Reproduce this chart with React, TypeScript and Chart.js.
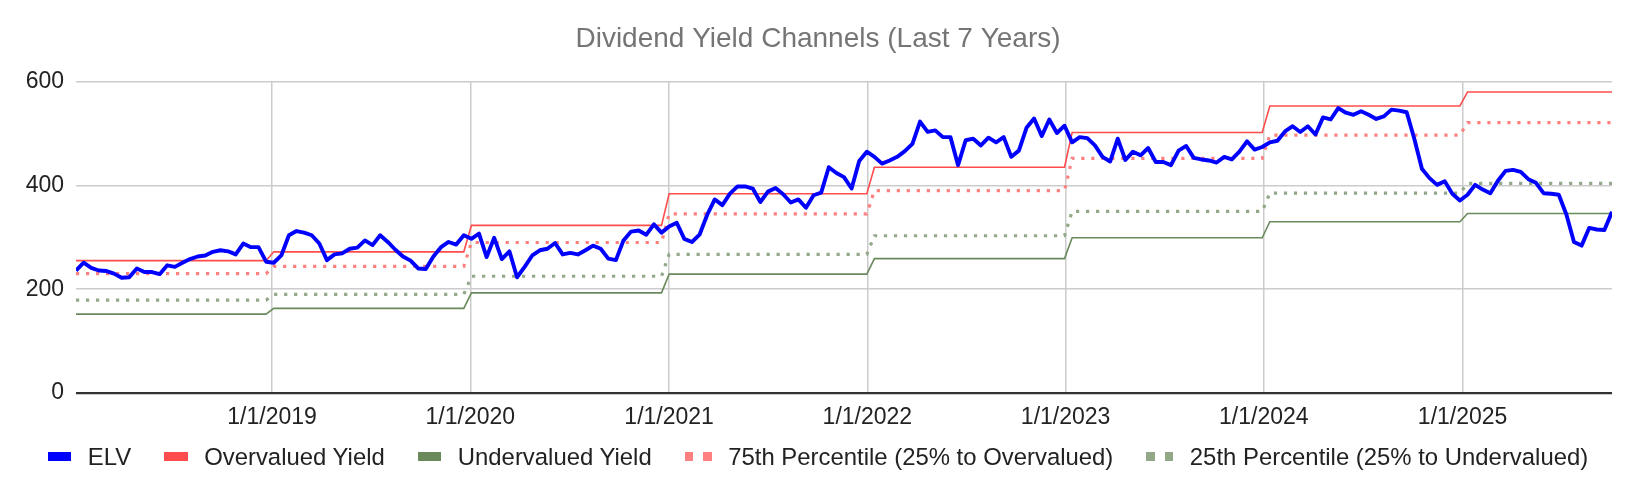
import { useEffect, useRef } from "react";
import Chart from "chart.js/auto";

const TITLE = "Dividend Yield Channels (Last 7 Years)";
const FONT = '"Liberation Sans", Arial, sans-serif';

// biweekly closes, first one on 2018-01-05
const START_DATE = "2018-01-05";
const STEP_DAYS = 14;

const ELV = [
  236, 251, 241, 236, 235, 230, 222, 223, 240, 233,
  233, 229, 246, 243, 251, 258, 263, 265, 272, 275,
  273, 267, 288, 281, 281, 253, 251, 265, 304, 312,
  309, 304, 288, 256, 267, 269, 278, 280, 294, 285,
  304, 291, 276, 263, 255, 240, 239, 263, 281, 291,
  286, 304, 297, 307, 262, 299, 258, 273, 223, 243,
  265, 275, 278, 289, 267, 270, 267, 275, 284, 278,
  259, 256, 294, 311, 313, 305, 325, 309, 321, 328,
  297, 291, 305, 343, 373, 362, 384, 398, 398, 394,
  368, 388, 395, 383, 367, 373, 357, 381, 386, 435,
  424, 416, 394, 447, 465, 455, 442, 448, 455, 466,
  480, 523, 503, 506, 493, 493, 439, 487, 490, 477,
  492, 483, 493, 455, 467, 511, 529, 495, 527, 501,
  515, 483, 493, 491, 477, 455, 446, 490, 449, 465,
  458, 472, 445, 445, 439, 467, 476, 453, 450, 448,
  444, 455, 450, 465, 485, 469, 474, 483, 486, 504,
  514, 503, 514, 498, 531, 527, 549, 540, 536, 543,
  536, 528, 533, 546, 544, 541, 490, 432, 414, 401,
  408, 384, 371, 382, 401, 392, 385, 409, 428, 430,
  426, 412, 405, 385, 384, 382, 344, 291, 284, 318,
  315, 314, 349,
];

// yearly channel levels
const CHANNEL_YEARS = [2018, 2019, 2020, 2021, 2022, 2023, 2024, 2025];
const OVERVALUED = [255, 272, 323, 384, 435, 502, 553, 580];
const P75 = [230, 244, 290, 345, 390, 452, 497, 521];
const P25 = [179, 190, 225, 267, 303, 350, 385, 404];
const UNDERVALUED = [152, 163, 193, 229, 259, 299, 330, 346];

const X_TICK_LABELS = ["1/1/2019", "1/1/2020", "1/1/2021", "1/1/2022", "1/1/2023", "1/1/2024", "1/1/2025"];
const Y_MAX = 600;
const Y_STEP = 200;

const LEGEND = [
  { name: "ELV", color: "#0000ff", dotted: false },
  { name: "Overvalued Yield", color: "#ff4d4d", dotted: false },
  { name: "Undervalued Yield", color: "#6a8a5c", dotted: false },
  { name: "75th Percentile (25% to Overvalued)", color: "#ff8080", dotted: true },
  { name: "25th Percentile (25% to Undervalued)", color: "#93a789", dotted: true },
];

const DAY = 86400000;
const start = Date.parse(START_DATE);
const days = ELV.map((_, i) => i * STEP_DAYS);
const yearOf = (d: number) => new Date(start + d * DAY).getUTCFullYear();
const xTicks = X_TICK_LABELS.map((s) => {
  const [m, d, y] = s.split("/").map(Number);
  return (Date.UTC(y, m - 1, d) - start) / DAY;
});
const channel = (vals: number[]) =>
  days.map((d) => ({ x: d, y: vals[CHANNEL_YEARS.indexOf(yearOf(d))] }));

const Swatch = ({ color, dotted }: { color: string; dotted: boolean }) =>
  dotted ? (
    <div style={{ display: "flex", width: 27, justifyContent: "space-between" }}>
      <div style={{ width: 8.5, height: 8.5, background: color }} />
      <div style={{ width: 8.5, height: 8.5, background: color }} />
    </div>
  ) : (
    <div style={{ width: 23.5, height: 9, background: color }} />
  );

export default function App() {
  const canvasRef = useRef<HTMLCanvasElement>(null);

  useEffect(() => {
    if (!canvasRef.current) return;
    const chart = new Chart(canvasRef.current, {
      type: "line",
      data: {
        datasets: [
          {
            label: LEGEND[0].name,
            data: days.map((d, i) => ({ x: d, y: ELV[i] })),
            borderColor: "#0000ff",
            borderWidth: 3.9,
            borderJoinStyle: "round",
            pointRadius: 0,
          },
          {
            label: LEGEND[1].name,
            data: channel(OVERVALUED),
            borderColor: "#ff4d4d",
            borderWidth: 1.6,
            pointRadius: 0,
          },
          {
            label: LEGEND[2].name,
            data: channel(UNDERVALUED),
            borderColor: "#6a8a5c",
            borderWidth: 1.6,
            pointRadius: 0,
          },
          {
            label: LEGEND[3].name,
            data: channel(P75),
            borderColor: "#ff8080",
            borderWidth: 3.2,
            borderDash: [3.2, 6.8],
            borderCapStyle: "butt",
            pointRadius: 0,
          },
          {
            label: LEGEND[4].name,
            data: channel(P25),
            borderColor: "#93a789",
            borderWidth: 3.2,
            borderDash: [3.2, 6.8],
            borderCapStyle: "butt",
            pointRadius: 0,
          },
        ],
      },
      options: {
        animation: false,
        responsive: true,
        maintainAspectRatio: false,
        layout: { padding: 0 },
        plugins: {
          legend: { display: false },
          tooltip: { enabled: false },
          title: {
            display: true,
            text: TITLE,
            color: "#757575",
            font: { family: FONT, size: 28, weight: "normal" },
            padding: { top: 22, bottom: 26 },
          },
        },
        scales: {
          x: {
            type: "linear",
            min: 0,
            max: days[days.length - 1],
            afterBuildTicks: (s: any) => {
              s.ticks = xTicks.map((v) => ({ value: v }));
            },
            afterFit: (s: any) => {
              s.height = 101;
            },
            ticks: {
              autoSkip: false,
              maxRotation: 0,
              padding: 11,
              color: "#222",
              font: { family: FONT, size: 23 },
              callback: (_v: any, i: number) => X_TICK_LABELS[i],
            },
            grid: { color: "#cccccc", lineWidth: 1.5, drawTicks: false },
            border: { display: false },
          },
          y: {
            min: 0,
            max: Y_MAX,
            afterFit: (s: any) => {
              s.width = 76;
            },
            ticks: {
              stepSize: Y_STEP,
              padding: 12,
              color: "#222",
              font: { family: FONT, size: 23 },
            },
            grid: {
              drawTicks: false,
              color: (c: any) => (c.tick && c.tick.value === 0 ? "#333333" : "#cccccc"),
              lineWidth: (c: any) => (c.tick && c.tick.value === 0 ? 2.2 : 1.5),
            },
            border: { display: false },
          },
          // empty strip on the right so the title stays centred on the page
          yRight: {
            position: "right",
            min: 0,
            max: Y_MAX,
            afterFit: (s: any) => {
              s.width = 24;
            },
            ticks: { display: false },
            grid: { display: false },
            border: { display: false },
          },
        },
      },
    });
    return () => chart.destroy();
  }, []);

  return (
    <div style={{ position: "fixed", left: 0, top: 0, width: 1636, height: 494, background: "#fff" }}>
      <div style={{ position: "absolute", left: 0, top: 0, width: 1636, height: 494 }}>
        <canvas ref={canvasRef}></canvas>
      </div>
      <div
        style={{
          position: "absolute",
          left: 0,
          top: 443.5,
          width: 1636,
          height: 26,
          display: "flex",
          justifyContent: "center",
          alignItems: "center",
          fontFamily: FONT,
          fontSize: 23.9,
          lineHeight: "26px",
          color: "#222",
          whiteSpace: "nowrap",
        }}
      >
        {LEGEND.map((item, i) => (
          <div key={item.name} style={{ display: "flex", alignItems: "center", marginLeft: i ? 33 : 0 }}>
            <Swatch color={item.color} dotted={item.dotted} />
            <span style={{ marginLeft: 16.5 }}>{item.name}</span>
          </div>
        ))}
      </div>
    </div>
  );
}
